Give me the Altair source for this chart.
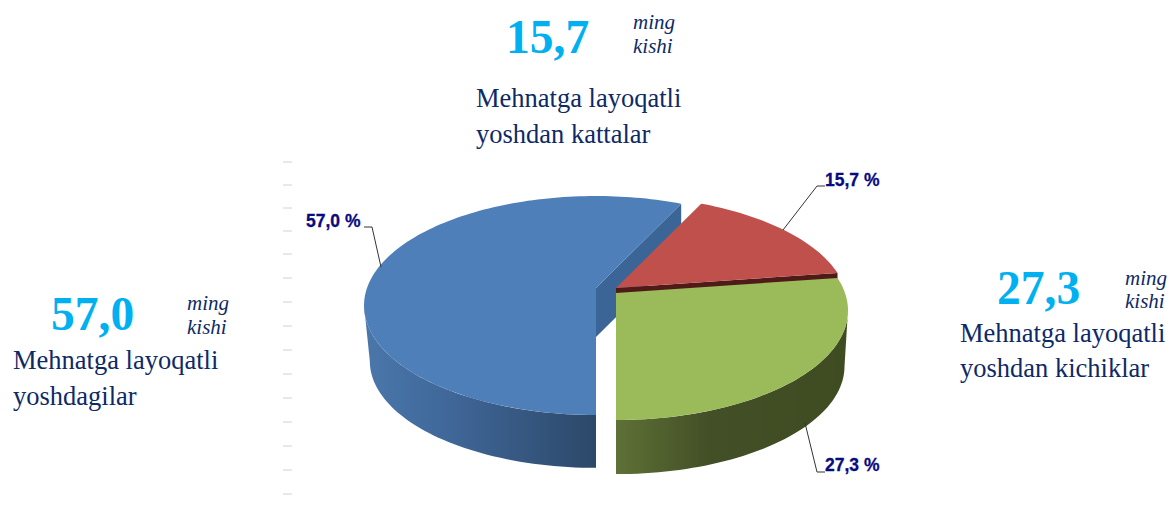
import math
import altair as alt
import pandas as pd

# ---- chart values ----
categories = ["Mehnatga layoqatli yoshdagilar", "Mehnatga layoqatli yoshdan kichiklar", "Mehnatga layoqatli yoshdan kattalar"]
shares = [57.0, 27.3, 15.7]
share_labels = ["57,0 %", "27,3 %", "15,7 %"]
big_numbers = ["57,0", "27,3", "15,7"]

# ---- layout ----
W, H = 1159, 495
X_DOM = [8, 8 + W]
Y_DOM = [8, 8 + H]
START = 25.2          # clockwise from the back of the pie, first slice runs counter-clockwise
K, RX, RY = 0.16, 229.0, 106.7
centers = {"blue": (596, 288), "green": (616, 293), "red": (616, 288)}
depths = {"blue": 56, "green": 56, "red": 6}
tick_rows = [162, 185, 208, 231, 254, 278, 302, 326, 350, 374, 398, 422, 446, 470, 494]
tick_span = [283, 292]

x_scale = alt.Scale(domain=X_DOM, range=[0, W], nice=False, zero=False)
y_scale = alt.Scale(domain=Y_DOM, range=[0, H], nice=False, zero=False)


def project(center, deg, scale=1.0, drop=0.0):
    t = math.radians(deg)
    u, v = math.sin(t), -math.cos(t)
    d = 1 - K * v
    return center[0] + scale * RX * u / d, center[1] + drop + scale * RY * v / d


def arc(center, a, b, scale=1.0, drop=0.0):
    n = max(2, int(abs(b - a) / 1.5))
    return [project(center, a + (b - a) * i / n, scale, drop) for i in range(n + 1)]


def shape(points, **mark):
    df = pd.DataFrame(points, columns=["x", "y"])
    df["o"] = range(len(df))
    return alt.Chart(df).mark_line(strokeWidth=0, **mark).encode(
        x=alt.X("x:Q", scale=x_scale, axis=None),
        y=alt.Y("y:Q", scale=y_scale, axis=None),
        order="o:Q",
    )


def grad(stops):
    return {"gradient": "linear", "x1": 0, "x2": 1, "y1": 0, "y2": 0,
            "stops": [{"offset": o, "color": c} for o, c in stops]}


# slice boundaries
blue_a = START
blue_b = blue_a - shares[0] * 3.6
green_a = blue_b + 360
green_b = green_a - shares[1] * 3.6
red_a = green_b
red_b = red_a - shares[2] * 3.6
EDGE = math.degrees(math.acos(-K))  # silhouette angle

layers = []

# left tick dashes
tick_df = pd.DataFrame({"y": tick_rows, "x": tick_span[0], "x2": tick_span[1]})
layers.append(alt.Chart(tick_df).mark_rule(color="#c9d2e8", strokeWidth=1).encode(
    x=alt.X("x:Q", scale=x_scale, axis=None), x2="x2:Q",
    y=alt.Y("y:Q", scale=y_scale, axis=None)))

# blue slice
c = centers["blue"]; s = 0.975; d = depths["blue"]
layers.append(shape(arc(c, -EDGE, blue_b, 1) + arc(c, blue_b, -EDGE, s, d),
                    fill=grad([(0, "#4a77ab"), (0.35, "#40689a"), (1, "#2c4869")])))
pa = project(c, blue_a)
layers.append(shape([c, pa, (pa[0], pa[1] + 49), (c[0], c[1] + 49)], fill="#3b6596"))
layers.append(shape([c] + arc(c, blue_a, blue_b), fill="#4f7fb9"))

# red slice
c = centers["red"]; d = depths["red"]
pr = project(c, red_a)
layers.append(shape([c, pr, (pr[0], pr[1] + d), (c[0], c[1] + d)], fill="#4e1b19"))
layers.append(shape([c] + arc(c, red_a, red_b), fill="#bf504c"))

# green slice
c = centers["green"]; s = 0.985; d = depths["green"]
layers.append(shape(arc(c, green_a, EDGE, 1) + arc(c, EDGE, green_a, s, d),
                    fill=grad([(0, "#5e7136"), (0.4, "#434f26"), (1, "#3f4c22")])))
layers.append(shape([c] + arc(c, green_a, green_b), fill="#9bba59"))

# leader lines
leaders = [
    [(364, 227), (372, 227), (381, 267)],
    [(825, 186), (817, 186), (783, 230)],
    [(825, 472), (817, 472), (805, 423)],
]
for pts in leaders:
    df = pd.DataFrame(pts, columns=["x", "y"])
    df["o"] = range(len(df))
    layers.append(alt.Chart(df).mark_line(color="#333333", strokeWidth=1).encode(
        x=alt.X("x:Q", scale=x_scale, axis=None),
        y=alt.Y("y:Q", scale=y_scale, axis=None),
        order="o:Q"))


def texts(rows, **mark):
    df = pd.DataFrame(rows, columns=["t", "x", "y"])
    return alt.Chart(df).mark_text(align="left", baseline="alphabetic", **mark).encode(
        x=alt.X("x:Q", scale=x_scale, axis=None),
        y=alt.Y("y:Q", scale=y_scale, axis=None),
        text="t:N")


layers.append(texts([(share_labels[0], 306, 227), (share_labels[2], 825, 186), (share_labels[1], 825, 471)],
                    font="Liberation Sans", fontWeight="bold", fontSize=17.5, color="#0a0a80",
                    stroke="#0a0a80", strokeWidth=0.3))
layers.append(texts([(big_numbers[0], 51, 330), (big_numbers[1], 997, 304), (big_numbers[2], 506, 53)],
                    font="Liberation Serif", fontWeight="bold", fontSize=47.5, color="#00b0f0"))
layers.append(texts([("ming", 187, 310), ("kishi", 187, 334), ("ming", 1125, 285), ("kishi", 1125, 308),
                     ("ming", 633, 29), ("kishi", 633, 53)],
                    font="Liberation Serif", fontStyle="italic", fontSize=21, color="#0e2a66"))
layers.append(texts([("Mehnatga layoqatli", 13, 369), ("yoshdagilar", 13, 405),
                     ("Mehnatga layoqatli", 960, 342), ("yoshdan kichiklar", 960, 377),
                     ("Mehnatga layoqatli", 476, 107), ("yoshdan kattalar", 476, 143)],
                    font="Liberation Serif", fontSize=26.5, color="#0e2a66"))

chart = alt.layer(*layers).properties(
    width=W, height=H, padding=0, autosize=alt.AutoSizeParams(type="none"), background="white"
).configure_view(stroke=None)

chart.save("out.html", embed_options={"renderer": "svg", "actions": False})
